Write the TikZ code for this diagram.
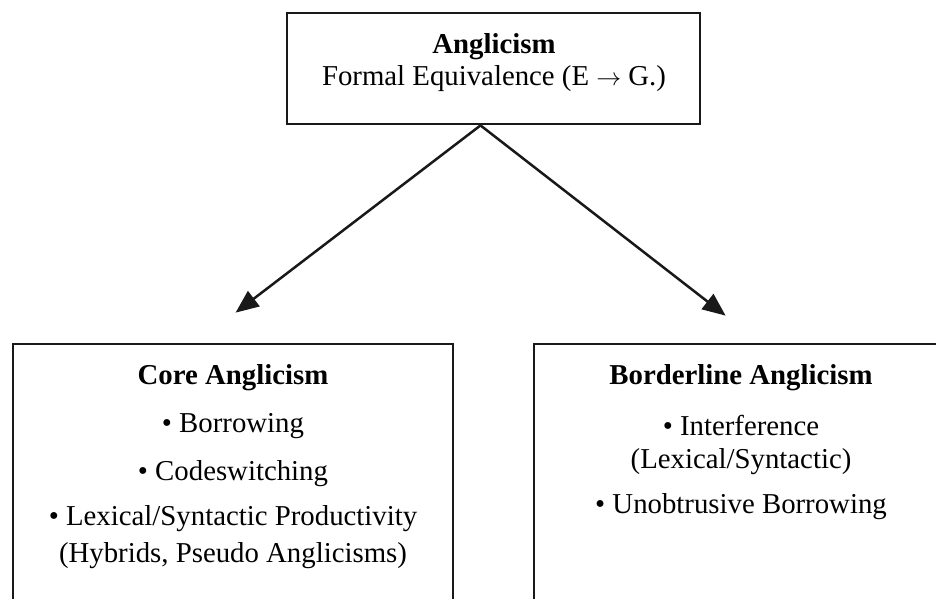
\documentclass[tikz,border=0pt]{standalone}
\usepackage{fontspec}
\setmainfont{Liberation Serif}
\usetikzlibrary{arrows.meta,calc}
\begin{document}
\begin{tikzpicture}[x=1pt,y=-1pt,
 box/.style={draw=black!90, line width=2.8pt, rectangle, inner sep=0pt},
 txt/.style={anchor=base, inner sep=0pt, font=\fontsize{28.8}{34}\selectfont},
 hd/.style={anchor=base, inner sep=0pt, font=\fontsize{28.8}{34}\selectfont\bfseries},
 conn/.style={line width=2.5pt, draw=black!90, -{Triangle[length=23pt,width=19pt]}}]
\useasboundingbox (0,0) rectangle (936,599);
\clip (0,0) rectangle (936,599);
% boxes
\node[box, minimum width=413pt, minimum height=111pt] (top) at (493.5,68.5) {};
\node[box, minimum width=440pt, minimum height=296pt] (core) at (233,492) {};
\node[box, minimum width=414pt, minimum height=296pt] (border) at (741,492) {};
% top texts
\node[hd] (t1) at (494,54) {Anglicism};
\node[txt] (t2) at (494,86) {Formal Equivalence (E $\rightarrow$ G.)};
% core texts
\node[hd] (c1) at (233,384) {Core Anglicism};
\node[txt] (c2) at (233,432) {• Borrowing};
\node[txt] (c3) at (233,480) {• Codeswitching};
\node[txt] (c4) at (233,525) {• Lexical/Syntactic Productivity};
\node[txt] (c5) at (233,562) {(Hybrids, Pseudo Anglicisms)};
% borderline texts
\node[hd] (b1) at (741,384) {Borderline Anglicism};
\node[txt] (b2) at (741,435) {• Interference};
\node[txt] (b3) at (741,468) {(Lexical/Syntactic)};
\node[txt] (b4) at (741,513) {• Unobtrusive Borrowing};
% connectors
\coordinate (src) at ($(top.south)+(-13,0)$);
\coordinate (tipL) at ($(core.north west)+(224,-30)$);
\coordinate (tipR) at ($(border.north west)+(193,-27)$);
\draw[conn] (src) -- (tipL);
\draw[conn] (src) -- (tipR);
\end{tikzpicture}
\end{document}
